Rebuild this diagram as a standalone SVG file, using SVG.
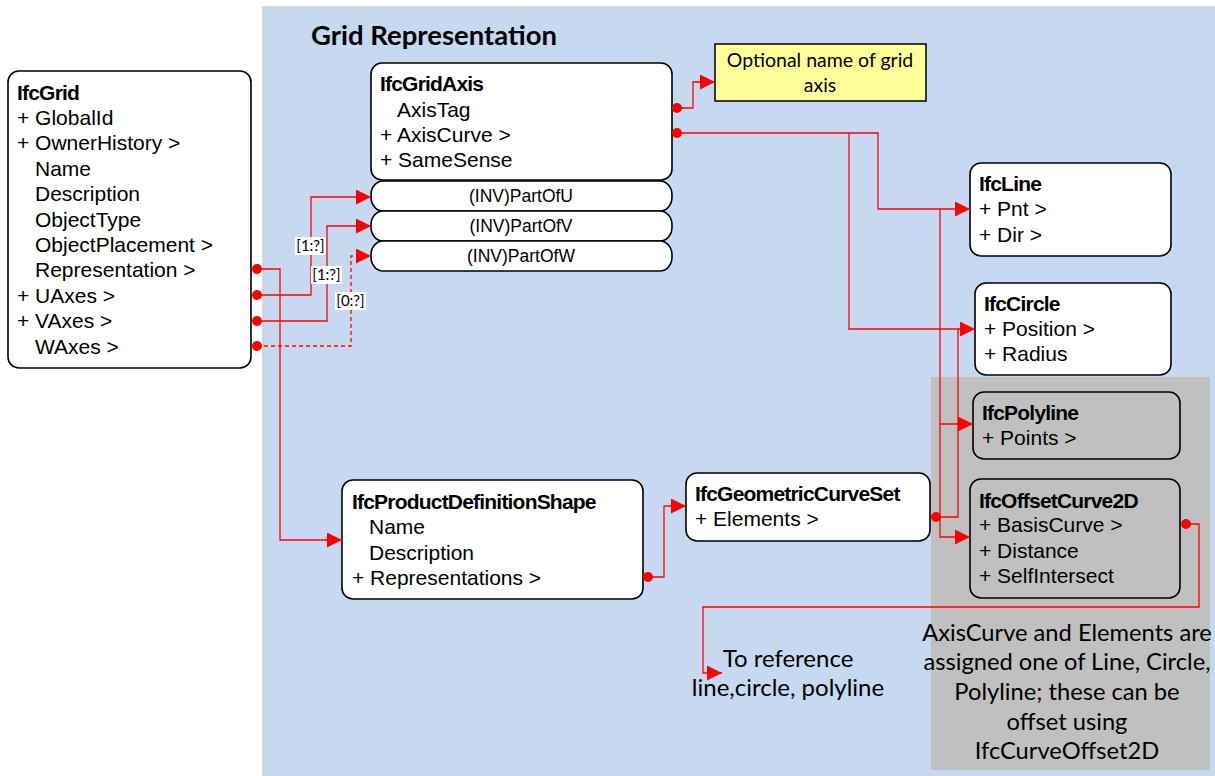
<svg xmlns="http://www.w3.org/2000/svg" width="1215" height="776" viewBox="0 0 1215 776">
  <style>
    .node { fill: #ffffff; stroke: #000000; stroke-width: 1.6; }
    .gnode { fill: #c0c0c0; stroke: #000000; stroke-width: 1.6; }
    .inv { fill: #ffffff; stroke: #000000; stroke-width: 1.6; }
    .t { font-family: "Liberation Sans", Arial, sans-serif; font-size: 21px; fill: #000000; }
    .h { font-family: "Liberation Sans", Arial, sans-serif; font-size: 21px; font-weight: bold; letter-spacing: -0.8px; fill: #000000; }
    .it { font-family: "Liberation Sans", Arial, sans-serif; font-size: 17.5px; fill: #000000; text-anchor: middle; }
    .note { font-family: Lato, "Open Sans", sans-serif; fill: #000000; }
    .lbl { font-family: Lato, "Open Sans", sans-serif; font-size: 15px; fill: #000000; text-anchor: middle; }
    .link { fill: none; stroke: #ff0000; stroke-width: 1.3; }
    .arrow { marker-end: url(#arrowhead); }
    .dot { fill: #ff0000; }
  </style>
  <defs>
    <marker id="arrowhead" markerUnits="userSpaceOnUse" markerWidth="16" markerHeight="16" refX="15" refY="7.5" orient="auto">
      <path d="M0,0 L15,7.5 L0,15 Z" fill="#ff0000"/>
    </marker>
  </defs>

  <!-- background -->
  <rect x="0" y="0" width="1215" height="776" fill="#ffffff"/>
  <!-- grid representation panel -->
  <rect x="263" y="7" width="960" height="780" fill="#c6d9f0" stroke="#d0d0d0" stroke-width="1.5"/>
  <text x="311" y="45" class="note" font-size="27.5" font-weight="bold">Grid Representation</text>
  <!-- curve type panel -->
  <rect x="931" y="377" width="279" height="393" fill="#c0c0c0"/>

  <!-- IfcGrid -->
  <g id="ifcgrid">
    <rect x="8" y="71" width="243" height="297" rx="11" class="node"/>
    <text x="17" y="100" class="h">IfcGrid</text>
    <text x="17" y="125" class="t">+ GlobalId</text>
    <text x="17" y="150" class="t">+ OwnerHistory &gt;</text>
    <text x="35" y="176" class="t">Name</text>
    <text x="35" y="201" class="t">Description</text>
    <text x="35" y="227" class="t">ObjectType</text>
    <text x="35" y="252" class="t">ObjectPlacement &gt;</text>
    <text x="35" y="277" class="t">Representation &gt;</text>
    <text x="17" y="303" class="t">+ UAxes &gt;</text>
    <text x="17" y="328" class="t">+ VAxes &gt;</text>
    <text x="35" y="354" class="t">WAxes &gt;</text>
  </g>

  <!-- IfcGridAxis with inverse attributes -->
  <g id="ifcgridaxis">
    <rect x="371" y="63" width="301" height="117" rx="11" class="node"/>
    <text x="380" y="91" class="h">IfcGridAxis</text>
    <text x="397" y="117" class="t">AxisTag</text>
    <text x="380" y="142" class="t">+ AxisCurve &gt;</text>
    <text x="380" y="167" class="t">+ SameSense</text>
  </g>
  <g id="partofu">
    <rect x="371" y="181" width="301" height="30" rx="12" ry="14" class="inv"/>
    <text x="521" y="202" class="it">(INV)PartOfU</text>
  </g>
  <g id="partofv">
    <rect x="371" y="211" width="301" height="30" rx="12" ry="14" class="inv"/>
    <text x="521" y="232" class="it">(INV)PartOfV</text>
  </g>
  <g id="partofw">
    <rect x="371" y="241" width="301" height="30" rx="12" ry="14" class="inv"/>
    <text x="521" y="262" class="it">(INV)PartOfW</text>
  </g>

  <!-- axis name note -->
  <g id="axisnote">
    <rect x="715" y="44" width="211" height="57" fill="#ffff99" stroke="#000000" stroke-width="1.5"/>
    <text x="820" y="67" class="note" font-size="19.5" text-anchor="middle">Optional name of grid</text>
    <text x="820" y="92" class="note" font-size="19.5" text-anchor="middle">axis</text>
  </g>

  <!-- curve types -->
  <g id="ifcline">
    <rect x="970" y="163" width="201" height="93" rx="11" class="node"/>
    <text x="979" y="191" class="h">IfcLine</text>
    <text x="979" y="216" class="t">+ Pnt &gt;</text>
    <text x="979" y="242" class="t">+ Dir &gt;</text>
  </g>
  <g id="ifccircle">
    <rect x="975" y="283" width="196" height="92" rx="11" class="node"/>
    <text x="984" y="311" class="h">IfcCircle</text>
    <text x="984" y="336" class="t">+ Position &gt;</text>
    <text x="984" y="361" class="t">+ Radius</text>
  </g>
  <g id="ifcpolyline">
    <rect x="973" y="392" width="207" height="67" rx="11" class="gnode"/>
    <text x="982" y="420" class="h">IfcPolyline</text>
    <text x="982" y="445" class="t">+ Points &gt;</text>
  </g>
  <g id="ifcoffsetcurve2d">
    <rect x="970" y="479" width="210" height="119" rx="11" class="gnode"/>
    <text x="979" y="508" class="h">IfcOffsetCurve2D</text>
    <text x="979" y="532" class="t">+ BasisCurve &gt;</text>
    <text x="979" y="558" class="t">+ Distance</text>
    <text x="979" y="583" class="t">+ SelfIntersect</text>
  </g>

  <!-- shape representation chain -->
  <g id="ifcproductdefinitionshape">
    <rect x="342" y="480" width="301" height="119" rx="11" class="node"/>
    <text x="352" y="509" class="h">IfcProductDefinitionShape</text>
    <text x="369" y="534" class="t">Name</text>
    <text x="369" y="560" class="t">Description</text>
    <text x="352" y="585" class="t">+ Representations &gt;</text>
  </g>
  <g id="ifcgeometriccurveset">
    <rect x="686" y="473" width="244" height="68" rx="11" class="node"/>
    <text x="695" y="501" class="h">IfcGeometricCurveSet</text>
    <text x="695" y="526" class="t">+ Elements &gt;</text>
  </g>

  <!-- free texts -->
  <g id="refnote">
    <text x="788" y="667" class="note" font-size="24" text-anchor="middle">To reference</text>
    <text x="788" y="696" class="note" font-size="24" text-anchor="middle">line,circle, polyline</text>
  </g>
  <g id="offsetnote" class="note" font-size="23.7" text-anchor="middle">
    <text x="1067" y="641">AxisCurve and Elements are</text>
    <text x="1067" y="670">assigned one of Line, Circle,</text>
    <text x="1067" y="700">Polyline; these can be</text>
    <text x="1067" y="730">offset using</text>
    <text x="1067" y="759">IfcCurveOffset2D</text>
  </g>

  <!-- connectors -->
  <g id="connectors">
    <path d="M257,269 H280 V540 H342" class="link arrow"/>
    <path d="M257,295 H311 V197 H371" class="link arrow"/>
    <path d="M257,321 H327 V226 H371" class="link arrow"/>
    <path d="M257,346 H351 V256 H371" class="link arrow" stroke-dasharray="4,3"/>
    <path d="M677,108 H693 V82 H715" class="link arrow"/>
    <path d="M677,133 H878 V209 H970" class="link arrow"/>
    <path d="M849,133 V329 H975" class="link arrow"/>
    <path d="M648,577 H664 V506 H686" class="link arrow"/>
    <path d="M936,517 H940 V209" class="link"/>
    <path d="M940,424 H973" class="link arrow"/>
    <path d="M940,517 V537 H970" class="link arrow"/>
    <path d="M936,517 H958 V329" class="link"/>
    <path d="M1186,524 H1199 V607 H703 V673 H722" class="link arrow"/>

    <circle cx="257" cy="269" r="5" class="dot"/>
    <circle cx="257" cy="295" r="5" class="dot"/>
    <circle cx="257" cy="321" r="5" class="dot"/>
    <circle cx="257" cy="346" r="5" class="dot"/>
    <circle cx="677" cy="108" r="5" class="dot"/>
    <circle cx="677" cy="133" r="5" class="dot"/>
    <circle cx="648" cy="577" r="5" class="dot"/>
    <circle cx="936" cy="517" r="5" class="dot"/>
    <circle cx="1186" cy="524" r="5" class="dot"/>

    <!-- cardinality labels -->
    <rect x="295" y="237" width="31" height="18" fill="#ffffff"/>
    <text x="310.5" y="251" class="lbl">[1:?]</text>
    <rect x="311" y="266" width="31" height="18" fill="#ffffff"/>
    <text x="326.5" y="280" class="lbl">[1:?]</text>
    <rect x="335" y="292" width="31" height="18" fill="#ffffff"/>
    <text x="350.5" y="306" class="lbl">[0:?]</text>
  </g>
</svg>
